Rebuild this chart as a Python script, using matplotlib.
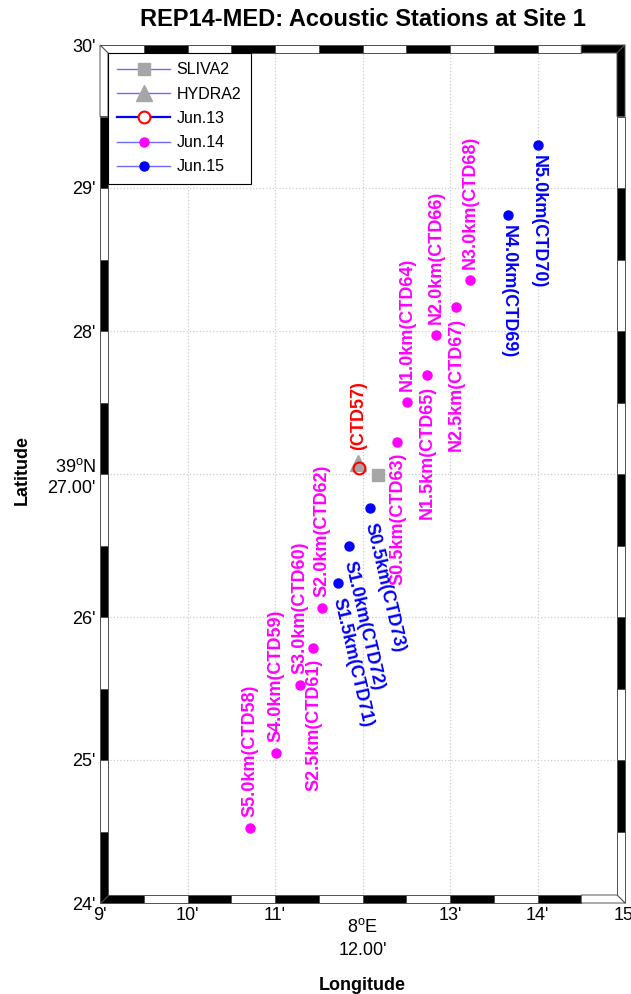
import matplotlib
matplotlib.use("Agg")
import matplotlib.pyplot as plt
from matplotlib.lines import Line2D
from matplotlib.patches import Polygon

plt.rcParams['font.family'] = ['Liberation Sans', 'DejaVu Sans']
plt.rcParams['mathtext.fontset'] = 'custom'
plt.rcParams['mathtext.rm'] = 'Liberation Sans'

# positions in minutes (lon: 8deg E + min, lat: 39deg N + min)
sliva_lon = [12.177]
sliva_lat = [26.993]
hydra_lon = [11.949]
hydra_lat = [27.077]

jun13_lon = [11.96]
jun13_lat = [27.042]
jun13_names = ["(CTD57)"]

jun14_names = ["S5.0km(CTD58)", "S4.0km(CTD59)", "S3.0km(CTD60)", "S2.5km(CTD61)",
               "S2.0km(CTD62)", "S0.5km(CTD63)", "N1.0km(CTD64)", "N1.5km(CTD65)",
               "N2.0km(CTD66)", "N2.5km(CTD67)", "N3.0km(CTD68)"]
jun14_lon = [10.714, 11.011, 11.286, 11.434, 11.537, 12.394, 12.509, 12.737,
             12.84, 13.069, 13.229]
jun14_lat = [24.524, 25.049, 25.524, 25.783, 26.063, 27.224, 27.503, 27.692,
             27.972, 28.168, 28.357]

jun15_names = ["S1.5km(CTD71)", "S1.0km(CTD72)", "S0.5km(CTD73)",
               "N4.0km(CTD69)", "N5.0km(CTD70)"]
jun15_lon = [11.72, 11.846, 12.086, 13.663, 14.006]
jun15_lat = [26.238, 26.497, 26.762, 28.811, 29.301]

xtick_vals = [9, 10, 11, 12, 13, 14, 15]
xtick_labels = ["9'", "10'", "11'", "8$^\\mathregular{o}$E\n12.00'", "13'", "14'", "15'"]
ytick_vals = [24, 25, 26, 27, 28, 29, 30]
ytick_labels = ["24'", "25'", "26'", "39$^\\mathregular{o}$N\n27.00'", "28'", "29'", "30'"]

MAG = '#ff00ff'
BLU = '#0000ff'
RED = '#ff0000'
GRY = '#a6a6a6'

fig = plt.figure(figsize=(6.31, 9.94), dpi=100)
ax = fig.add_axes([100/631, 1-903/994, 525/631, 858/994])
ax.set_xlim(9, 15)
ax.set_ylim(24, 30)

# grid
for v in xtick_vals[1:-1]:
    ax.axvline(v, color='#cccccc', ls=':', lw=0.9, zorder=0)
for v in ytick_vals[1:-1]:
    ax.axhline(v, color='#cccccc', ls=':', lw=0.9, zorder=0)

# markers
ax.plot(sliva_lon, sliva_lat, 's', color=GRY, ms=8, zorder=3)
ax.plot(hydra_lon, hydra_lat, '^', color=GRY, ms=11, zorder=3)
ax.plot(jun13_lon, jun13_lat, 'o', mfc='none', mec=RED, mew=1.5, ms=8.5, zorder=4)
ax.plot(jun14_lon, jun14_lat, 'o', color=MAG, ms=6.5, zorder=3)
ax.plot(jun15_lon, jun15_lat, 'o', color=BLU, ms=6.5, zorder=3)

lab = dict(fontsize=13, fontweight='bold', textcoords='offset points')

# Jun.13 label above the circle
for n, x, y in zip(jun13_names, jun13_lon, jun13_lat):
    ax.annotate(n, (x, y), xytext=(0, 13), color=RED, rotation=90,
                ha='center', va='bottom', **lab)

# Jun.14 labels: above or below the dot, reading bottom-up
side14 = ['up', 'up', 'up', 'down', 'up', 'down', 'up', 'down', 'up', 'down', 'up']
for n, x, y, s in zip(jun14_names, jun14_lon, jun14_lat, side14):
    if s == 'up':
        ax.annotate(n, (x, y), xytext=(0, 8), color=MAG, rotation=90,
                    ha='center', va='bottom', **lab)
    else:
        ax.annotate(n, (x, y), xytext=(0.5, -8), color=MAG, rotation=90,
                    ha='center', va='top', **lab)

# Jun.15 labels reading top-down; south ones tilted
for n, x, y in zip(jun15_names, jun15_lon, jun15_lat):
    if n.startswith('S'):
        ax.annotate(n, (x, y), xytext=(0, -11), color=BLU, rotation=-77,
                    rotation_mode='anchor', ha='left', va='center', **lab)
    else:
        ax.annotate(n, (x, y), xytext=(0, -7), color=BLU, rotation=-90,
                    ha='center', va='top', **lab)

# map frame: alternating black/white bands
tx = 8 / 87.5
ty = 8 / 143.0
x0, x1, y0, y1 = 9, 15, 24, 30
def band(p, fill):
    ax.add_patch(Polygon(p, closed=True, facecolor=fill, edgecolor='#505050',
                         lw=0.7, zorder=10, clip_on=False))

for i in range(12):
    a = x0 + i * 0.5
    b = a + 0.5
    ai = a + tx if i == 0 else a
    bi = b - tx if i == 11 else b
    band([(a, y0), (b, y0), (bi, y0 + ty), (ai, y0 + ty)], 'black' if i % 2 == 0 else 'white')
    band([(a, y1), (b, y1), (bi, y1 - ty), (ai, y1 - ty)], 'white' if i % 2 == 0 else 'black')
    c = y0 + i * 0.5
    d = c + 0.5
    ci = c + ty if i == 0 else c
    di = d - ty if i == 11 else d
    band([(x0, c), (x0, d), (x0 + tx, di), (x0 + tx, ci)], 'black' if i % 2 == 0 else 'white')
    band([(x1, c), (x1, d), (x1 - tx, di), (x1 - tx, ci)], 'white' if i % 2 == 0 else 'black')

for sp in ax.spines.values():
    sp.set_visible(False)

ax.set_xticks(xtick_vals)
ax.set_xticklabels(xtick_labels)
ax.set_yticks(ytick_vals)
ax.set_yticklabels(ytick_labels)
ax.tick_params(length=0, labelsize=13, pad=3)
for t in ax.get_xticklabels():
    t.set_linespacing(1.45)
for t in ax.get_yticklabels():
    t.set_linespacing(1.3)
ax.xaxis.get_major_ticks()[3].set_pad(11)

ax.set_title("REP14-MED: Acoustic Stations at Site 1", fontsize=17,
             fontweight='bold', pad=14)
fig.text(22/631, 1-470/994, "Latitude", rotation=90, ha='center', va='center',
         fontsize=13, fontweight='bold')
fig.text(362/631, 1-985/994, "Longitude", ha='center', va='center',
         fontsize=13, fontweight='bold')

# legend
handles = [
    Line2D([], [], color='#6b6bff', lw=1, marker='s', mfc=GRY, mec=GRY, ms=8),
    Line2D([], [], color='#6b6bff', lw=1, marker='^', mfc=GRY, mec=GRY, ms=11),
    Line2D([], [], color=BLU, lw=1.6, marker='o', mfc='white', mec=RED, mew=1.5, ms=8.5),
    Line2D([], [], color='#6b6bff', lw=1, marker='o', mfc=MAG, mec=MAG, ms=6.5),
    Line2D([], [], color='#6b6bff', lw=1, marker='o', mfc=BLU, mec=BLU, ms=6.5),
]
leg = ax.legend(handles, ["SLIVA2", "HYDRA2", "Jun.13", "Jun.14", "Jun.15"],
                loc='upper left', bbox_to_anchor=(0.015, 0.991), borderaxespad=0,
                fancybox=False, edgecolor='black', framealpha=1, fontsize=11.5,
                handlelength=3.3, labelspacing=0.58, handletextpad=0.4,
                borderpad=0.6)
leg.get_frame().set_linewidth(0.8)
leg.set_zorder(11)

fig.savefig("out.png", dpi=100)
